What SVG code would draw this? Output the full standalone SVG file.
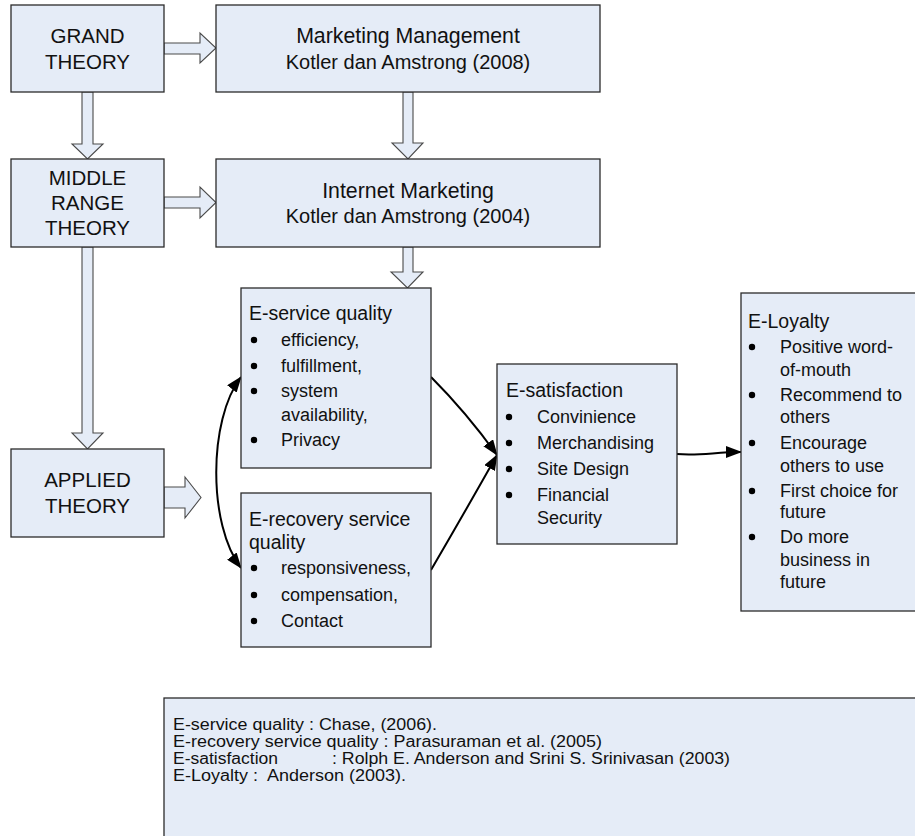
<svg xmlns="http://www.w3.org/2000/svg" width="915" height="836" viewBox="0 0 915 836">
<defs>
<style>
.box{fill:#E5ECF7;stroke:#2b2b2b;stroke-width:1.3}
.blk{fill:#E5ECF7;stroke:#4a4a4a;stroke-width:1.1;stroke-linejoin:miter}
.t{font-family:"Liberation Sans",Arial,sans-serif;fill:#111}
.c{text-anchor:middle}
.big{font-size:20.5px}
.ttl{font-size:19.5px}
.it{font-size:18px}
.ref{font-size:16px;white-space:pre}
.con{fill:none;stroke:#000;stroke-width:2}
.dot{fill:#000}
</style>
<marker id="ah" viewBox="0 0 16 12" refX="15" refY="6" markerWidth="16" markerHeight="12" markerUnits="userSpaceOnUse" orient="auto-start-reverse">
<path d="M0,0 L16,6 L0,12 z" fill="#000"/>
</marker>
</defs>

<g id="connectors">
<polygon class="blk" points="164,43 200,43 200,33 216,48 200,63 200,54 164,54"/>
<polygon class="blk" points="164,197 200,197 200,187 216,202.5 200,218 200,208 164,208"/>
<polygon class="blk" points="82,92 93,92 93,144 103,144 87.5,159 72,144 82,144"/>
<polygon class="blk" points="403,92 413,92 413,143 423,143 408,159 392,143 403,143"/>
<polygon class="blk" points="82,247 93,247 93,433 103,433 87.5,449 72,433 82,433"/>
<polygon class="blk" points="403,247 413,247 413,272 423,272 407.5,288 391,272 403,272"/>
<polygon class="blk" points="164,487 185,487 185,477 201,497.5 185,518 185,508 164,508"/>
<path class="con" d="M241,377 C208,420 208,525 241,568" marker-start="url(#ah)" marker-end="url(#ah)"/>
<path class="con" d="M431,377 Q466,412 497,455" marker-end="url(#ah)"/>
<path class="con" d="M431,570 Q466,510 497,455" marker-end="url(#ah)"/>
<path class="con" d="M677,454 C700,456 715,452 741,452" marker-end="url(#ah)"/>
</g>

<g id="grand">
<rect class="box" x="11" y="5" width="153" height="87"/>
<text class="t c big" x="87.5" y="43">GRAND</text>
<text class="t c big" x="87.5" y="69">THEORY</text>
</g>

<g id="marketing-management">
<rect class="box" x="216" y="5" width="384" height="87"/>
<text class="t c" style="font-size:21.3px" x="408" y="43">Marketing Management</text>
<text class="t c" style="font-size:20px" x="408" y="69">Kotler dan Amstrong (2008)</text>
</g>

<g id="middle">
<rect class="box" x="11" y="159" width="153" height="88"/>
<text class="t c big" x="87.5" y="185">MIDDLE</text>
<text class="t c big" x="87.5" y="210">RANGE</text>
<text class="t c big" x="87.5" y="235">THEORY</text>
</g>

<g id="internet-marketing">
<rect class="box" x="216" y="159" width="384" height="88"/>
<text class="t c" style="font-size:21.3px" x="408" y="198">Internet Marketing</text>
<text class="t c" style="font-size:20px" x="408" y="223">Kotler dan Amstrong (2004)</text>
</g>

<g id="applied">
<rect class="box" x="11" y="449" width="153" height="88"/>
<text class="t c big" x="87.5" y="487">APPLIED</text>
<text class="t c big" x="87.5" y="513">THEORY</text>
</g>

<g id="e-service">
<rect class="box" x="241" y="288" width="190" height="180"/>
<text class="t ttl" x="249" y="320">E-service quality</text>
<circle class="dot" cx="254" cy="340" r="3.2"/>
<text class="t it" x="281" y="346">efficiency,</text>
<circle class="dot" cx="254" cy="366" r="3.2"/>
<text class="t it" x="281" y="372">fulfillment,</text>
<circle class="dot" cx="254" cy="391" r="3.2"/>
<text class="t it" x="281" y="397">system</text>
<text class="t it" x="281" y="421">availability,</text>
<circle class="dot" cx="254" cy="440" r="3.2"/>
<text class="t it" x="281" y="446">Privacy</text>
</g>

<g id="e-recovery">
<rect class="box" x="241" y="493" width="190" height="154"/>
<text class="t ttl" x="249" y="526">E-recovery service</text>
<text class="t ttl" x="249" y="549">quality</text>
<circle class="dot" cx="254" cy="568" r="3.2"/>
<text class="t it" x="281" y="574">responsiveness,</text>
<circle class="dot" cx="254" cy="595" r="3.2"/>
<text class="t it" x="281" y="601">compensation,</text>
<circle class="dot" cx="254" cy="621" r="3.2"/>
<text class="t it" x="281" y="627">Contact</text>
</g>

<g id="e-satisfaction">
<rect class="box" x="497" y="364" width="180" height="180"/>
<text class="t ttl" x="506" y="397">E-satisfaction</text>
<circle class="dot" cx="509" cy="417" r="3.2"/>
<text class="t it" x="537" y="423">Convinience</text>
<circle class="dot" cx="509" cy="443" r="3.2"/>
<text class="t it" x="537" y="449">Merchandising</text>
<circle class="dot" cx="509" cy="469" r="3.2"/>
<text class="t it" x="537" y="475">Site Design</text>
<circle class="dot" cx="509" cy="495" r="3.2"/>
<text class="t it" x="537" y="501">Financial</text>
<text class="t it" x="537" y="524">Security</text>
</g>

<g id="e-loyalty">
<rect class="box" x="741" y="293" width="180" height="318"/>
<text class="t ttl" x="748" y="328">E-Loyalty</text>
<circle class="dot" cx="752" cy="347" r="3.2"/>
<text class="t it" x="780" y="353">Positive word-</text>
<text class="t it" x="780" y="376">of-mouth</text>
<circle class="dot" cx="752" cy="395" r="3.2"/>
<text class="t it" x="780" y="401">Recommend to</text>
<text class="t it" x="780" y="423">others</text>
<circle class="dot" cx="752" cy="443" r="3.2"/>
<text class="t it" x="780" y="449">Encourage</text>
<text class="t it" x="780" y="472">others to use</text>
<circle class="dot" cx="752" cy="491" r="3.2"/>
<text class="t it" x="780" y="497">First choice for</text>
<text class="t it" x="780" y="518">future</text>
<circle class="dot" cx="752" cy="537" r="3.2"/>
<text class="t it" x="780" y="543">Do more</text>
<text class="t it" x="780" y="566">business in</text>
<text class="t it" x="780" y="588">future</text>
</g>

<g id="references">
<rect class="box" x="164" y="698" width="760" height="150"/>
<text class="t ref" x="173" y="730" textLength="264" lengthAdjust="spacingAndGlyphs">E-service quality : Chase, (2006).</text>
<text class="t ref" x="173" y="747" textLength="429" lengthAdjust="spacingAndGlyphs">E-recovery service quality : Parasuraman et al. (2005)</text>
<text class="t ref" x="173" y="764" textLength="105" lengthAdjust="spacingAndGlyphs">E-satisfaction</text>
<text class="t ref" x="332" y="764" textLength="398" lengthAdjust="spacingAndGlyphs">: Rolph E. Anderson and Srini S. Srinivasan (2003)</text>
<text class="t ref" x="173" y="781" textLength="233" lengthAdjust="spacingAndGlyphs">E-Loyalty :  Anderson (2003).</text>
</g>
</svg>
